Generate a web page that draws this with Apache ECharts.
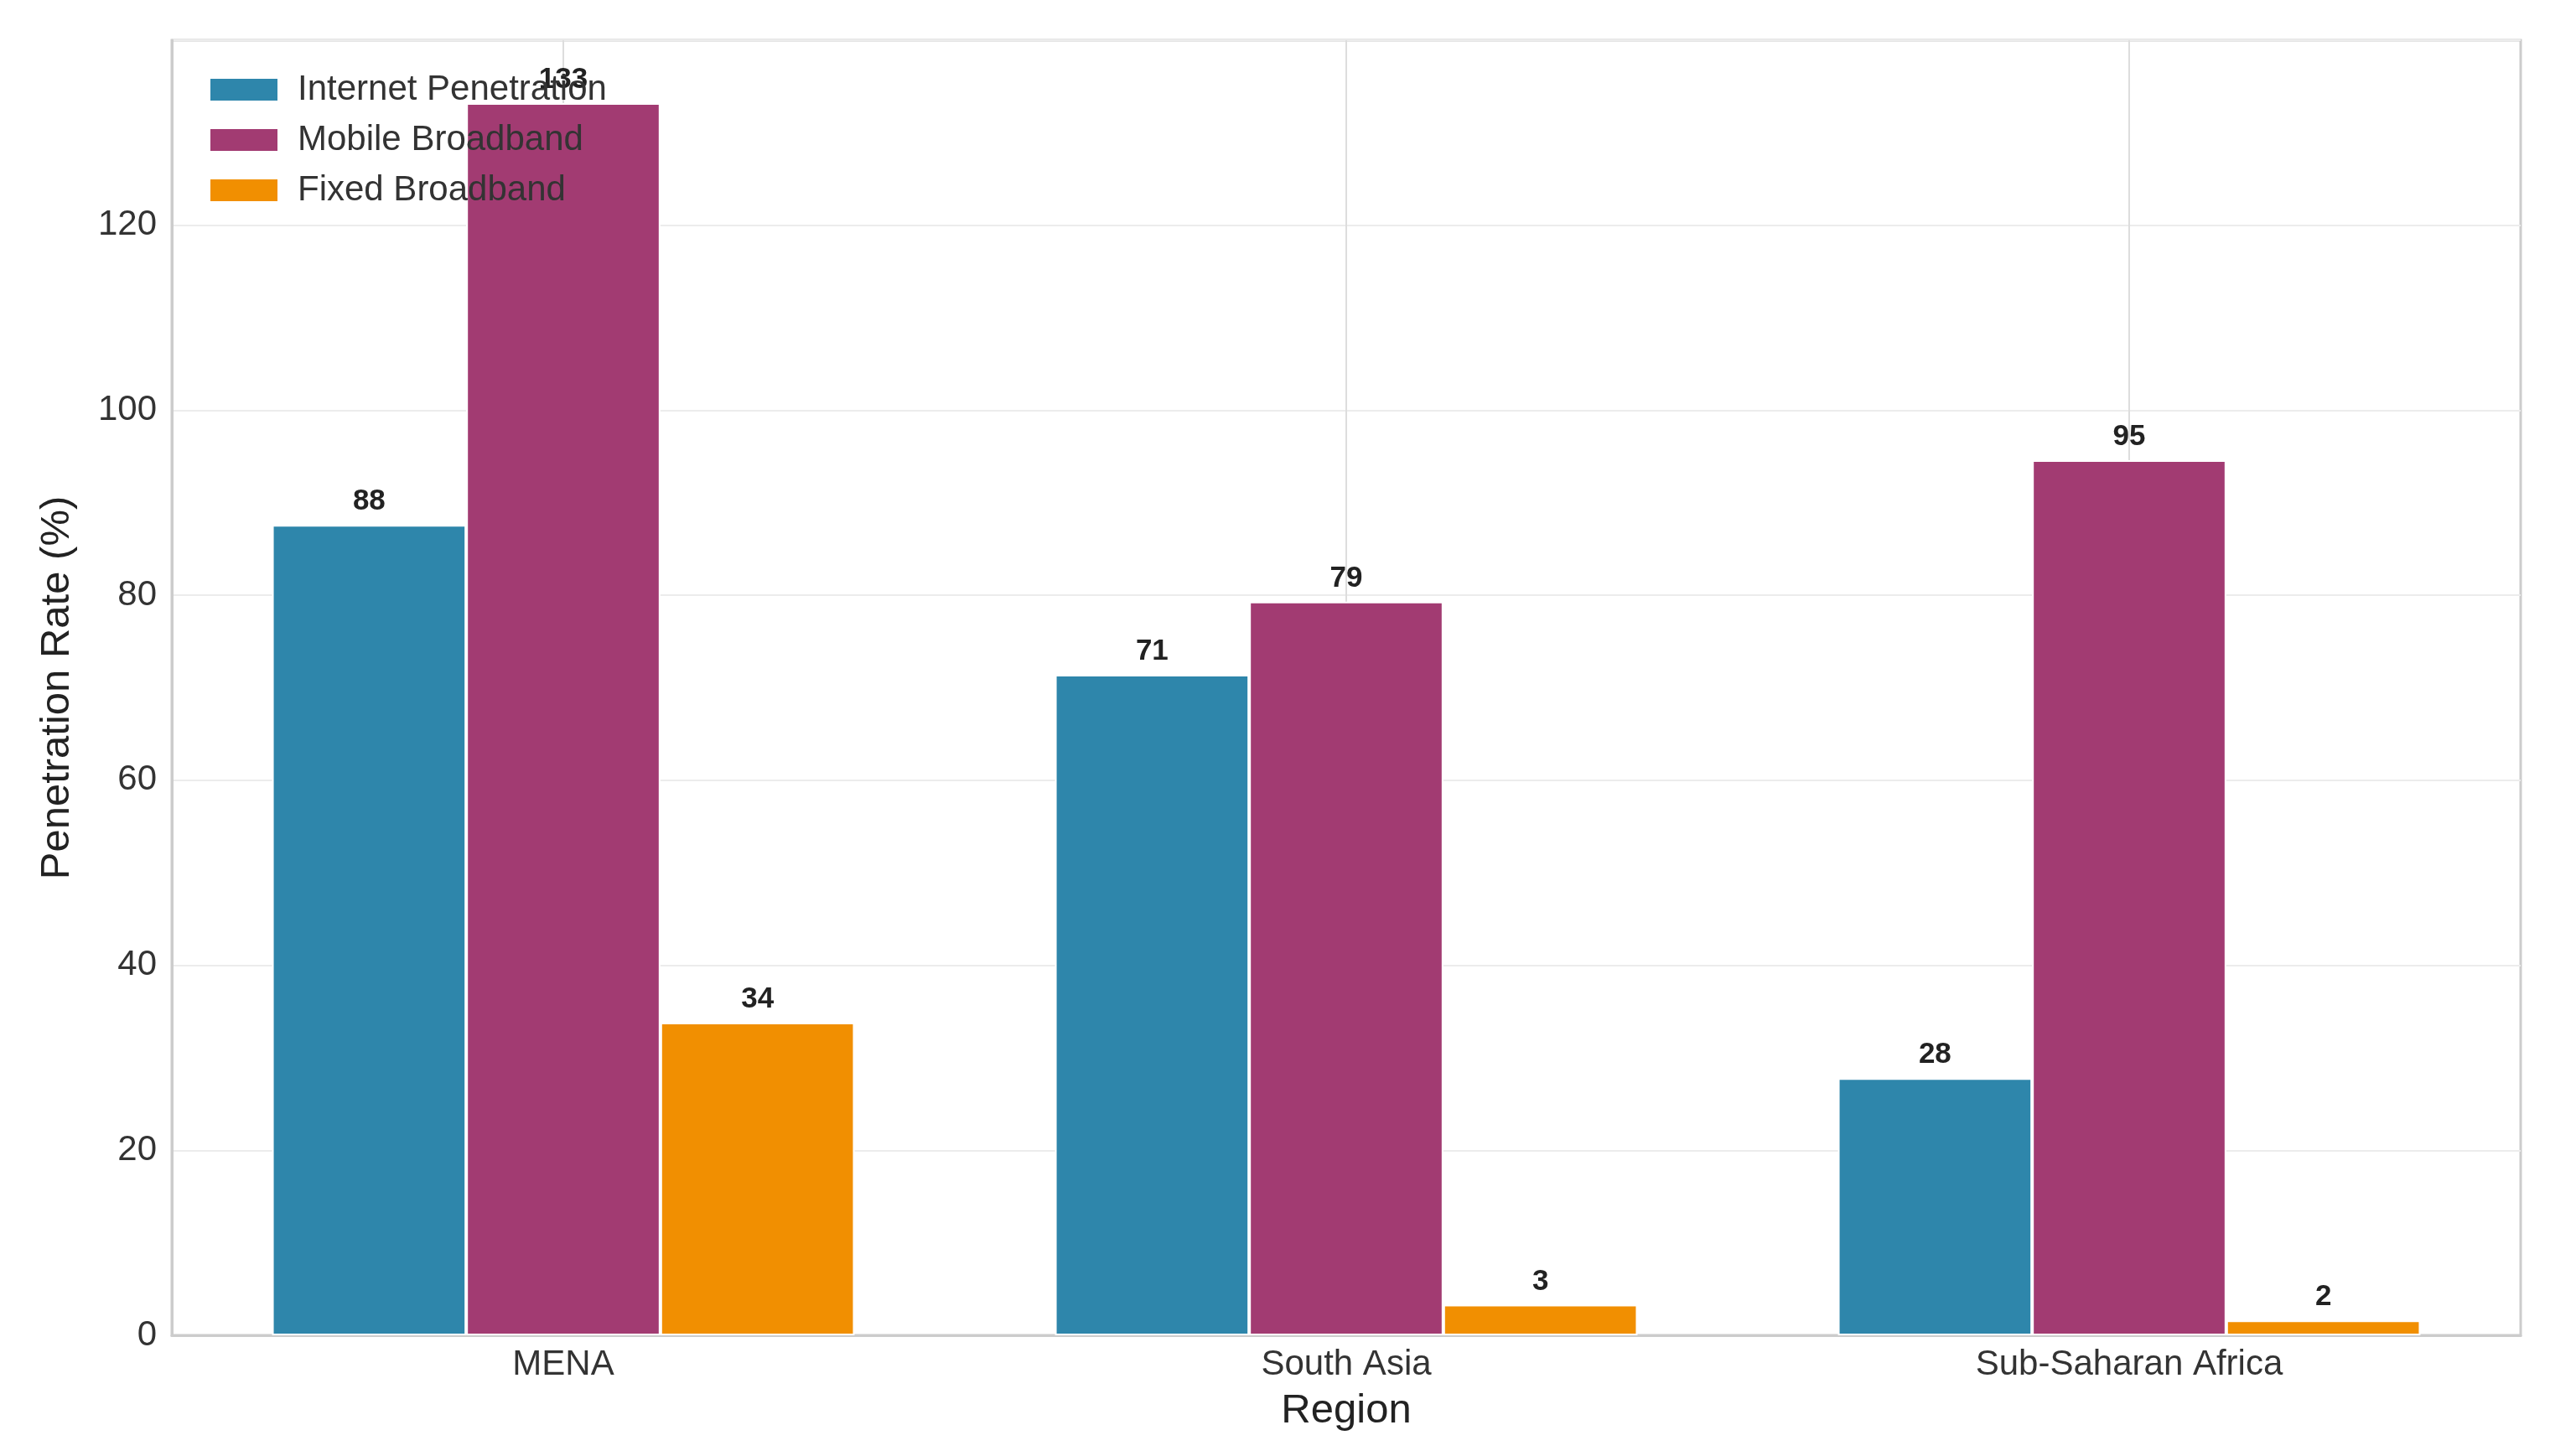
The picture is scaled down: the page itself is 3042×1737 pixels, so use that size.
<!DOCTYPE html>
<html>
<head>
<meta charset="utf-8">
<title>Penetration Rate by Region</title>
<script src="https://cdn.jsdelivr.net/npm/echarts@6/dist/echarts.min.js"></script>
<style>
    html, body { margin: 0; padding: 0; background: #fff; }
    #chart { width: 3042px; height: 1737px; }
</style>
</head>
<body>
<div id="chart"></div>
<script>
// 数据
var regions = ['MENA', 'South Asia', 'Sub-Saharan Africa'];
var internetPenetration = [87.6, 71.4, 27.8];
var mobileBroadband = [133.2, 79.3, 94.6];
var fixedBroadband = [33.8, 3.3, 1.6];
var yTicks = [0, 20, 40, 60, 80, 100, 120];

var chart = echarts.init(document.getElementById('chart'));
var font = '"Liberation Sans", Arial, sans-serif';

function barSeries(name, color, data) {
    return {
        name: name,
        type: 'bar',
        data: data,
        barWidth: '24.8%',
        barGap: '0%',
        itemStyle: { color: color, borderColor: '#fff', borderWidth: 2 },
        label: {
            show: true,
            position: 'top',
            distance: 10,
            fontFamily: font,
            fontSize: 35,
            fontWeight: 'bold',
            color: '#222',
            formatter: function (p) { return Math.round(p.value); }
        }
    };
}

var series = [
    barSeries('Internet Penetration', '#2E86AB', internetPenetration),
    barSeries('Mobile Broadband', '#A23B72', mobileBroadband),
    barSeries('Fixed Broadband', '#F18F01', fixedBroadband),
    // 空的折线系列，只用来在类目中心画竖向网格线
    {
        name: 'grid',
        type: 'line',
        data: [],
        silent: true,
        markLine: {
            silent: true,
            z: 1,
            symbol: 'none',
            label: { show: false },
            lineStyle: { color: '#dddddd', width: 2, type: 'solid' },
            data: regions.map(function (r) { return { xAxis: r }; })
        }
    }
];

var option = {
    animation: false,
    backgroundColor: '#fff',
    textStyle: { fontFamily: font },
    grid: {
        left: 205, right: 35, top: 48, bottom: 144,
        show: true, borderColor: '#cccccc', borderWidth: 3
    },
    legend: {
        orient: 'vertical',
        left: 244,
        top: 80,
        icon: 'rect',
        itemWidth: 82,
        itemHeight: 28,
        itemGap: 16,
        textStyle: { fontFamily: font, fontSize: 42, color: '#333', lineHeight: 44, padding: [0, 0, 0, 18] },
        data: ['Internet Penetration', 'Mobile Broadband', 'Fixed Broadband']
    },
    xAxis: {
        type: 'category',
        data: regions,
        name: 'Region',
        nameLocation: 'middle',
        nameGap: 66,
        nameTextStyle: { fontFamily: font, fontSize: 49, color: '#222' },
        axisLine: { show: true, lineStyle: { color: '#cccccc', width: 3 } },
        axisTick: { show: false },
        axisLabel: { fontFamily: font, fontSize: 42, color: '#333', margin: 14 },
        splitLine: { show: false }
    },
    yAxis: {
        type: 'value',
        min: 0,
        max: 140,
        interval: 20,
        name: 'Penetration Rate (%)',
        nameLocation: 'middle',
        nameGap: 112,
        nameTextStyle: { fontFamily: font, fontSize: 49, color: '#222' },
        axisLine: { show: true, lineStyle: { color: '#cccccc', width: 3 } },
        axisTick: { show: false },
        axisLabel: {
            fontFamily: font, fontSize: 42, color: '#333', margin: 18,
            formatter: function (v) { return yTicks.indexOf(v) >= 0 ? v : ''; }
        },
        splitLine: { show: true, lineStyle: { color: '#ececec', width: 2 } }
    },
    series: series
};

chart.setOption(option);
</script>
</body>
</html>
